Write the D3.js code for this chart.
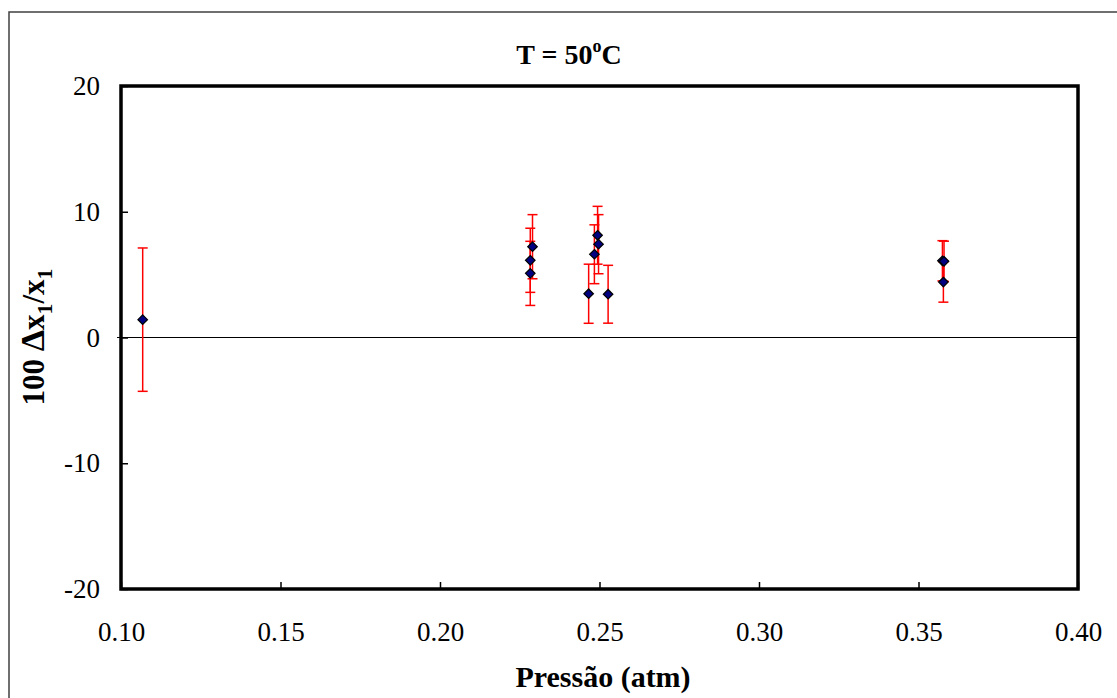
<!DOCTYPE html>
<html>
<head>
<meta charset="utf-8">
<script src="https://cdn.jsdelivr.net/npm/d3@7"></script>
<style>
body { margin: 0; background: #fff; }
text { font-family: "Liberation Serif", "Times New Roman", serif; fill: #000; }
</style>
</head>
<body>
<div id="chart"></div>
<script>
// values
var pressure  = [0.1068, 0.2283, 0.2283, 0.2290, 0.2466, 0.2484, 0.2494, 0.2497, 0.2527, 0.3575, 0.3580, 0.3578];
var deviation = [1.42, 5.10, 6.14, 7.22, 3.48, 6.62, 8.13, 7.42, 3.44, 6.10, 6.06, 4.41];
var errorBar  = [5.70, 2.55, 2.55, 2.55, 2.35, 2.34, 2.30, 2.35, 2.30, 1.60, 1.60, 1.60];
var xTicks = [0.10, 0.15, 0.20, 0.25, 0.30, 0.35, 0.40];
var yTicks = [-20, -10, 0, 10, 20];

var W = 1117, H = 698;
var mLeft = 121, mRight = 1078, mTop = 86, mBottom = 589;

var svg = d3.select("#chart").append("svg").attr("width", W).attr("height", H);

// outer chart border
svg.append("rect").attr("x", 9).attr("y", 12).attr("width", 1130).attr("height", 720)
    .attr("fill", "none").attr("stroke", "#404040").attr("stroke-width", 1.5);

var x = d3.scaleLinear().domain([0.10, 0.40]).range([mLeft, mRight]);
var y = d3.scaleLinear().domain([-20, 20]).range([mBottom, mTop]);

// zero line
svg.append("line").attr("x1", mLeft - 4).attr("x2", mRight)
    .attr("y1", y(0)).attr("y2", y(0)).attr("stroke", "#000").attr("stroke-width", 1);

// axes with inside ticks
var xAxis = d3.axisBottom(x).tickValues(xTicks).tickFormat(d3.format(".2f"))
    .tickSizeInner(-7).tickSizeOuter(0).tickPadding(33);
var gx = svg.append("g").attr("transform", "translate(0," + mBottom + ")").call(xAxis);
gx.selectAll("text").style("font-size", "27px").style("font-family", "Liberation Serif").attr("fill", "#000");
gx.selectAll("line").attr("stroke", "#000").attr("stroke-width", 1.5);
gx.select(".domain").remove();

// plain hyphen for negatives, as in the original
var yAxis = d3.axisLeft(y).tickValues(yTicks).tickFormat(function(d) { return String(d); })
    .tickSizeInner(-7).tickSizeOuter(0).tickPadding(21);
var gy = svg.append("g").attr("transform", "translate(" + mLeft + ",0)").call(yAxis);
gy.selectAll("text").style("font-size", "27px").style("font-family", "Liberation Serif").attr("fill", "#000");
gy.selectAll("line").attr("stroke", "#000").attr("stroke-width", 1.5);
gy.select(".domain").remove();

// plot frame
svg.append("rect").attr("x", mLeft).attr("y", mTop)
    .attr("width", mRight - mLeft).attr("height", mBottom - mTop)
    .attr("fill", "none").attr("stroke", "#000").attr("stroke-width", 3.5);

// error bars
var idx = d3.range(pressure.length);
var eb = svg.append("g").attr("stroke", "#ff0000").attr("stroke-width", 1.5);
idx.forEach(function(i) {
    var px = x(pressure[i]);
    var y1 = y(deviation[i] + errorBar[i]);
    var y2 = y(deviation[i] - errorBar[i]);
    eb.append("line").attr("x1", px).attr("x2", px).attr("y1", y1).attr("y2", y2);
    eb.append("line").attr("x1", px - 5).attr("x2", px + 5).attr("y1", y1).attr("y2", y1);
    eb.append("line").attr("x1", px - 5).attr("x2", px + 5).attr("y1", y2).attr("y2", y2);
});

// diamond markers
var diamond = d3.symbol().type(d3.symbolDiamond2).size(58);
svg.append("g").selectAll("path").data(idx).enter().append("path")
    .attr("d", diamond)
    .attr("transform", function(i) { return "translate(" + x(pressure[i]) + "," + y(deviation[i]) + ")"; })
    .attr("fill", "#000080").attr("stroke", "#000").attr("stroke-width", 1.2);

// title
var title = svg.append("text").attr("x", 569).attr("y", 64).attr("text-anchor", "middle")
    .style("font-size", "28px").style("font-weight", "bold");
title.append("tspan").text("T = 50");
title.append("tspan").attr("dy", -12).style("font-size", "18px").text("o");
title.append("tspan").attr("dy", 12).text("C");

// x label
svg.append("text").attr("x", 603).attr("y", 687).attr("text-anchor", "middle")
    .style("font-size", "30px").style("font-weight", "bold").text("Pressão (atm)");

// y label
var ylab = svg.append("text").attr("transform", "translate(44,337) rotate(-90)")
    .attr("text-anchor", "middle").style("font-size", "31px").style("font-weight", "bold");
ylab.append("tspan").text("100 ");
ylab.append("tspan").style("font-size", "34px").text("Δ");
ylab.append("tspan").text("x");
ylab.append("tspan").attr("dy", 8).style("font-size", "22px").text("1");
ylab.append("tspan").attr("dy", -8).text("/x");
ylab.append("tspan").attr("dy", 8).style("font-size", "22px").text("1");
</script>
</body>
</html>
